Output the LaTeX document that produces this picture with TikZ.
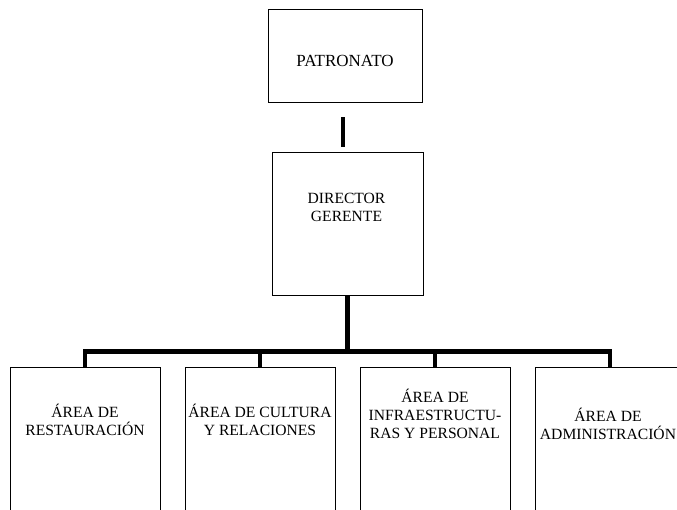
\documentclass[tikz,border=0pt]{standalone}
\usepackage{fontspec}
\setmainfont{Liberation Serif}
\begin{document}
\begin{tikzpicture}[x=1pt,y=-1pt,
  box/.style={draw=black, line width=0.8pt, inner sep=0pt},
  lbl/.style={inner sep=0pt, align=center, font=\fontsize{15.6}{18}\selectfont},
  conn/.style={draw=black, line width=4.3pt, line join=miter}]
\useasboundingbox (0,0) rectangle (677,509);
\clip (0,0) rectangle (677,509);
% boxes
\node[box, minimum width=154, minimum height=93] (pat) at (345,55.5) {};
\node[box, minimum width=151, minimum height=143] (dir) at (347.5,223.5) {};
\node[box, minimum width=150, minimum height=173] (a1) at (85,453.5) {};
\node[box, minimum width=150, minimum height=173] (a2) at (260,453.5) {};
\node[box, minimum width=150, minimum height=173] (a3) at (435,453.5) {};
\node[box, minimum width=150, minimum height=173] (a4) at (610,453.5) {};
% texts
\node[lbl, font=\fontsize{17}{20}\selectfont] (tpat) at (345,60.5) {PATRONATO};
\node[lbl] (tdir) at (346.5,207) {DIRECTOR\\GERENTE};
\node[lbl] (t1) at (85,420) {ÁREA DE\\RESTAURACIÓN};
\node[lbl] (t2) at (260,420) {ÁREA DE CULTURA\\Y RELACIONES};
\node[lbl] (t3) at (435,414) {ÁREA DE\\INFRAESTRUCTU-\\RAS Y PERSONAL};
\node[lbl] (t4) at (608,424) {ÁREA DE\\ADMINISTRACIÓN};
% connectors
\coordinate (busL) at (85,351.5);
\draw[conn, shorten <=15pt, shorten >=5pt] ([xshift=-2pt]pat.south) -- ([xshift=-4.5pt]dir.north);
\draw[conn] (dir.south) -- (dir.south |- busL);
\draw[conn] (a1.north) -- (a1.north |- busL) -- (a4.north |- busL) -- (a4.north);
\draw[conn] (a2.north |- busL) -- (a2.north);
\draw[conn] (a3.north |- busL) -- (a3.north);
\end{tikzpicture}
\end{document}
